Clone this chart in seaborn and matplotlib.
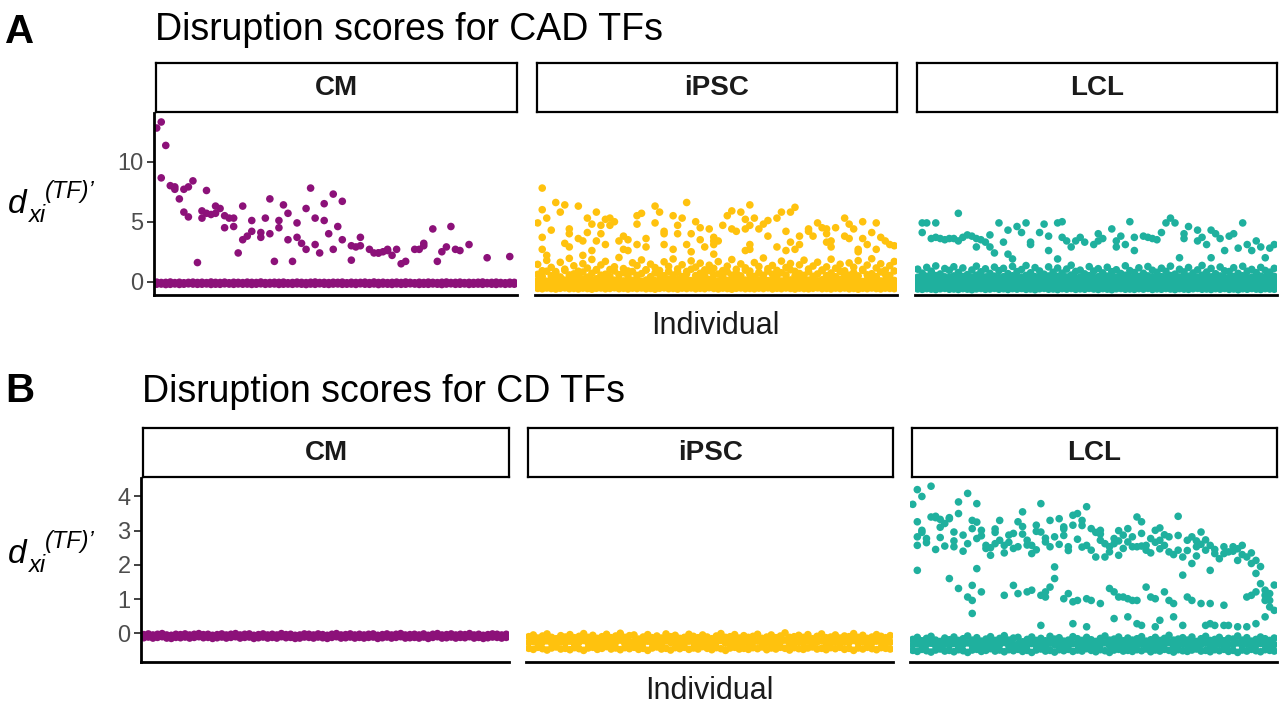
import matplotlib
matplotlib.use("Agg")
import matplotlib.pyplot as plt
import seaborn as sns
import pandas as pd

# ---------------- data ----------------
cells = ["CM", "iPSC", "LCL"]
panels = ["A", "B"]
panel_titles = ["Disruption scores for CAD TFs", "Disruption scores for CD TFs"]
y_ticks_a = [0, 5, 10]
y_ticks_b = [0, 1, 2, 3, 4]
x_label = "Individual"

# ---- Panel A (CAD TFs) : scattered non-zero scores, individual index 0..79
cm_a_ind = [0, 1, 2, 1, 3, 4, 4, 5, 6, 6, 7, 7, 8, 9, 10, 10, 11, 11, 12, 13,
            13, 14, 15, 15, 16, 17, 17, 18, 19, 19, 20, 21, 21, 23, 23, 24, 25, 25, 26, 27,
            27, 28, 29, 29, 30, 31, 31, 32, 33, 33, 34, 35, 35, 36, 37, 37, 38, 39, 39, 40,
            41, 41, 43, 43, 44, 45, 45, 47, 48, 49, 49, 50, 51, 51, 52, 53, 54, 55, 57, 58,
            59, 59, 61, 62, 63, 64, 65, 66, 67, 69, 73, 78]
cm_a_val = [12.8, 13.3, 11.35, 8.65, 8.0, 7.9, 7.7, 6.9, 7.7, 5.8, 7.9, 5.4, 8.4, 1.6, 5.9, 5.3, 5.7, 7.6, 5.6, 6.3,
            5.7, 6.1, 5.5, 4.5, 5.3, 5.3, 4.6, 2.4, 3.5, 6.3, 3.8, 4.2, 5.1, 4.1, 3.7, 5.3, 4.0, 6.9, 1.7, 4.5,
            5.1, 6.4, 3.5, 5.7, 1.7, 4.9, 3.7, 3.2, 6.1, 2.7, 7.8, 5.3, 3.1, 2.4, 6.5, 5.1, 4.0, 2.7, 7.3, 4.6,
            3.5, 6.7, 1.8, 3.0, 2.9, 3.0, 3.7, 2.7, 2.4, 2.4, 2.4, 2.5, 2.6, 2.7, 2.2, 2.7, 1.5, 1.7, 2.7, 2.7,
            3.0, 3.2, 4.4, 1.7, 2.5, 2.9, 4.6, 2.7, 2.6, 3.1, 2.0, 2.1]

ipsc_a_ind = [1, 1, 0, 4, 6, 5, 2, 3, 1, 1, 2, 9, 7, 7, 6, 7, 9, 10, 11, 13,
              12, 11, 14, 13, 15, 15, 12, 10, 16, 17, 16, 14, 19, 18, 20, 19, 20, 22, 23, 22,
              22, 24, 24, 26, 27, 26, 28, 28, 28, 30, 30, 32, 31, 31, 33, 33, 34, 35, 36, 36,
              37, 38, 39, 39, 34,
              47, 43, 42, 45, 46, 48, 41, 43, 44, 46, 47, 49, 50, 51, 53, 54, 57, 56, 55, 51,
              39, 40, 39, 47, 46, 47, 53, 56, 55, 57, 58, 58, 60, 60, 61, 62, 63, 64, 64, 64,
              65, 65, 66, 68, 68, 69, 70, 69, 72, 72, 71, 74, 75, 76, 77, 78, 79, 73, 75, 71]
ipsc_a_val = [7.8, 6.0, 4.9, 6.6, 6.4, 5.8, 5.3, 4.3, 3.7, 2.7, 2.2, 6.3, 4.4, 4.0, 3.2, 2.9, 3.6, 3.4, 5.3, 5.8,
              4.8, 4.1, 4.0, 3.4, 5.2, 3.1, 2.6, 2.2, 5.3, 5.0, 4.7, 4.7, 3.8, 3.4, 3.5, 2.7, 2.6, 5.5, 5.7, 4.8,
              3.1, 3.6, 2.9, 6.3, 5.8, 4.9, 4.2, 4.0, 3.1, 2.7, 5.5, 5.3, 4.7, 4.0, 6.6, 3.1, 4.0, 5.0, 4.5, 3.5,
              2.9, 4.4, 3.4, 2.3, 2.5,
              6.4, 5.9, 5.5, 5.8, 5.2, 5.3, 4.7, 4.4, 4.2, 4.4, 4.7, 4.4, 4.8, 5.1, 5.3, 5.8, 6.2, 5.8, 4.2, 3.8,
              3.7, 3.4, 3.1, 3.1, 2.6, 2.7, 2.9, 3.3, 2.6, 2.7, 3.1, 3.8, 4.2, 4.4, 3.8, 4.9, 4.5, 4.0, 4.4, 3.3,
              2.9, 3.4, 4.5, 5.3, 3.8, 4.8, 4.4, 3.6, 5.0, 3.6, 2.7, 4.1, 4.9, 3.7, 3.4, 3.1, 3.0, 3.1, 2.7, 2.5]

lcl_a_ind = [1, 1, 2, 4, 3, 4, 5, 6, 7, 8, 9, 9, 10, 11, 12, 13, 13, 14, 15, 16,
             16, 17, 18, 19, 20, 20, 21, 22, 23, 24, 25, 25, 27, 28, 29, 29, 31, 32, 31, 32,
             33, 34, 35, 36, 37, 39, 40, 40, 41, 43, 44, 44, 45, 46, 47, 48, 48, 50, 51, 52,
             53, 54, 55, 56, 57, 58, 59, 59, 60, 62, 62, 63, 64, 65, 65, 66, 67, 68, 69, 70,
             72, 71, 73, 74, 75, 76, 77, 78, 79]
lcl_a_val = [4.9, 4.1, 4.9, 4.9, 3.6, 3.7, 3.6, 3.5, 3.6, 3.6, 5.7, 3.4, 3.7, 3.9, 3.8, 3.6, 2.9, 3.5, 3.3, 2.9,
             3.9, 2.4, 4.9, 3.3, 4.3, 2.3, 1.9, 4.6, 4.1, 4.9, 3.3, 3.1, 4.1, 4.8, 3.8, 2.6, 4.9, 5.0, 1.9, 3.7,
             3.4, 2.9, 3.4, 3.7, 3.3, 3.1, 3.4, 4.0, 3.6, 4.4, 2.9, 3.4, 3.8, 3.1, 5.0, 2.6, 3.7, 3.8, 3.7, 3.6,
             3.5, 4.1, 4.9, 5.3, 4.9, 2.0, 4.0, 3.6, 4.6, 4.3, 3.4, 3.7, 3.1, 2.0, 4.3, 4.0, 3.6, 2.6, 3.8, 4.0,
             4.9, 2.8, 3.1, 2.6, 3.4, 2.9, 2.0, 2.8, 3.1]

# ---- Panel A : near-zero scores, one value per individual (index = individual)
cm_a_base_1 = [-0.03, -0.06, -0.05, -0.02, -0.07, -0.04, -0.08, -0.05, -0.03, -0.06,
               -0.04, -0.07, -0.02, -0.05, -0.06, -0.03, -0.08, -0.04, -0.05, -0.07,
               -0.03, -0.05, -0.06, -0.02, -0.07, -0.06, -0.04, -0.05, -0.03, -0.08,
               -0.06, -0.03, -0.05, -0.07, -0.04, -0.02, -0.06, -0.05, -0.07, -0.04,
               -0.05, -0.03, -0.08, -0.04, -0.06, -0.05, -0.03, -0.07, -0.02, -0.06,
               -0.04, -0.07, -0.05, -0.03, -0.06, -0.02, -0.05, -0.08, -0.04, -0.06,
               -0.03, -0.05, -0.07, -0.04, -0.02, -0.06, -0.05, -0.03, -0.07, -0.05,
               -0.06, -0.04, -0.02, -0.07, -0.05, -0.03, -0.06, -0.08, -0.04, -0.05]
cm_a_base_2 = [-0.20, -0.19, -0.23, -0.21, -0.18, -0.22, -0.20, -0.17, -0.19, -0.21,
               -0.20, -0.18, -0.22, -0.20, -0.21, -0.17, -0.19, -0.21, -0.18, -0.20,
               -0.19, -0.22, -0.20, -0.17, -0.21, -0.19, -0.18, -0.22, -0.20, -0.19,
               -0.21, -0.18, -0.20, -0.23, -0.19, -0.21, -0.17, -0.20, -0.22, -0.19,
               -0.18, -0.21, -0.20, -0.19, -0.22, -0.17, -0.20, -0.21, -0.18, -0.23,
               -0.19, -0.20, -0.22, -0.18, -0.21, -0.20, -0.17, -0.19, -0.22, -0.20,
               -0.21, -0.18, -0.20, -0.23, -0.19, -0.17, -0.21, -0.20, -0.18, -0.22,
               -0.20, -0.19, -0.21, -0.17, -0.20, -0.22, -0.18, -0.21, -0.19, -0.20]

ipsc_a_base_1 = [-0.55, -0.58, -0.52, -0.56, -0.60, -0.54, -0.51, -0.57, -0.55, -0.59,
                 -0.53, -0.56, -0.61, -0.54, -0.52, -0.58, -0.55, -0.50, -0.57, -0.54,
                 -0.59, -0.53, -0.56, -0.52, -0.58, -0.55, -0.61, -0.54, -0.51, -0.57,
                 -0.55, -0.60, -0.53, -0.56, -0.52, -0.58, -0.54, -0.57, -0.50, -0.55,
                 -0.59, -0.53, -0.56, -0.61, -0.54, -0.52, -0.57, -0.55, -0.58, -0.53,
                 -0.56, -0.51, -0.59, -0.54, -0.57, -0.52, -0.55, -0.60, -0.53, -0.56,
                 -0.58, -0.54, -0.51, -0.57, -0.55, -0.59, -0.53, -0.56, -0.52, -0.58,
                 -0.55, -0.61, -0.54, -0.57, -0.52, -0.56, -0.59, -0.53, -0.55, -0.57]
ipsc_a_base_2 = [-0.22, -0.18, -0.26, -0.20, -0.15, -0.24, -0.29, -0.19, -0.23, -0.17,
                 -0.27, -0.21, -0.14, -0.25, -0.19, -0.28, -0.22, -0.16, -0.24, -0.20,
                 -0.13, -0.26, -0.21, -0.18, -0.30, -0.23, -0.17, -0.25, -0.20, -0.27,
                 -0.15, -0.22, -0.19, -0.28, -0.24, -0.16, -0.21, -0.26, -0.18, -0.23,
                 -0.29, -0.20, -0.14, -0.25, -0.22, -0.17, -0.27, -0.19, -0.24, -0.21,
                 -0.16, -0.28, -0.23, -0.18, -0.25, -0.20, -0.13, -0.26, -0.22, -0.19,
                 -0.24, -0.17, -0.29, -0.21, -0.15, -0.26, -0.23, -0.18, -0.27, -0.20,
                 -0.22, -0.14, -0.25, -0.19, -0.28, -0.23, -0.17, -0.21, -0.26, -0.20]
ipsc_a_base_3 = [0.12, 0.20, 0.05, 0.16, 0.24, 0.08, 0.14, 0.02, 0.19, 0.10,
                 0.22, 0.06, 0.15, 0.25, 0.09, 0.18, 0.03, 0.13, 0.21, 0.07,
                 0.17, 0.11, 0.26, 0.04, 0.14, 0.20, 0.09, 0.16, 0.01, 0.23,
                 0.12, 0.18, 0.06, 0.22, 0.10, 0.15, 0.27, 0.08, 0.19, 0.13,
                 0.05, 0.21, 0.11, 0.17, 0.24, 0.07, 0.14, 0.20, 0.03, 0.16,
                 0.25, 0.09, 0.18, 0.12, 0.06, 0.22, 0.15, 0.10, 0.19, 0.04,
                 0.13, 0.23, 0.08, 0.17, 0.11, 0.26, 0.05, 0.20, 0.14, 0.09,
                 0.21, 0.16, 0.02, 0.18, 0.12, 0.24, 0.07, 0.15, 0.19, 0.11]
ipsc_a_base_4 = [0.62, 0.45, 0.88, 0.51, 0.73, 0.40, 0.95, 0.57, 0.66, 0.48,
                 0.81, 0.39, 0.70, 1.02, 0.55, 0.63, 0.44, 0.90, 0.59, 0.76,
                 0.47, 0.85, 0.53, 0.68, 0.98, 0.42, 0.74, 0.61, 0.50, 0.87,
                 0.56, 0.79, 0.43, 0.67, 1.05, 0.52, 0.71, 0.46, 0.92, 0.58,
                 0.64, 0.41, 0.83, 0.55, 0.72, 0.49, 0.97, 0.60, 0.45, 0.78,
                 0.54, 0.89, 0.62, 0.44, 0.75, 0.57, 1.00, 0.48, 0.69, 0.53,
                 0.84, 0.46, 0.65, 0.93, 0.51, 0.73, 0.42, 0.86, 0.60, 0.55,
                 0.77, 0.49, 0.95, 0.58, 0.67, 0.44, 0.82, 0.63, 0.52, 0.90]
ipsc_a_base_5 = [1.45, 0.92, 1.78, 1.20, 0.85, 1.62, 1.05, 1.95, 1.33, 0.88,
                 1.51, 1.14, 1.86, 0.97, 1.40, 1.70, 1.02, 1.25, 2.02, 1.10,
                 0.90, 1.58, 1.35, 1.82, 1.00, 1.47, 1.18, 0.94, 1.66, 1.28,
                 1.90, 1.07, 1.42, 0.86, 1.74, 1.22, 1.55, 0.99, 1.38, 1.12,
                 1.68, 0.93, 1.30, 1.85, 1.04, 1.49, 1.16, 0.89, 1.60, 1.27,
                 1.98, 1.09, 1.36, 0.95, 1.72, 1.19, 1.52, 0.87, 1.41, 1.80,
                 1.06, 1.31, 1.63, 0.98, 1.24, 1.88, 1.13, 1.46, 0.91, 1.57,
                 1.21, 1.76, 1.03, 1.39, 1.92, 1.15, 1.50, 0.96, 1.34, 1.69]

lcl_a_base_1 = [-0.60, -0.63, -0.57, -0.61, -0.65, -0.58, -0.55, -0.62, -0.60, -0.64,
                -0.57, -0.61, -0.66, -0.59, -0.56, -0.63, -0.60, -0.55, -0.62, -0.58,
                -0.64, -0.57, -0.61, -0.56, -0.63, -0.60, -0.66, -0.58, -0.55, -0.62,
                -0.60, -0.65, -0.57, -0.61, -0.56, -0.63, -0.59, -0.62, -0.55, -0.60,
                -0.64, -0.57, -0.61, -0.66, -0.58, -0.56, -0.62, -0.60, -0.63, -0.57,
                -0.61, -0.55, -0.64, -0.59, -0.62, -0.56, -0.60, -0.65, -0.57, -0.61,
                -0.63, -0.58, -0.55, -0.62, -0.60, -0.64, -0.57, -0.61, -0.56, -0.63,
                -0.60, -0.66, -0.58, -0.62, -0.56, -0.61, -0.64, -0.57, -0.60, -0.62]
lcl_a_base_2 = [-0.28, -0.24, -0.32, -0.26, -0.21, -0.30, -0.35, -0.25, -0.29, -0.23,
                -0.33, -0.27, -0.20, -0.31, -0.25, -0.34, -0.28, -0.22, -0.30, -0.26,
                -0.19, -0.32, -0.27, -0.24, -0.36, -0.29, -0.23, -0.31, -0.26, -0.33,
                -0.21, -0.28, -0.25, -0.34, -0.30, -0.22, -0.27, -0.32, -0.24, -0.29,
                -0.35, -0.26, -0.20, -0.31, -0.28, -0.23, -0.33, -0.25, -0.30, -0.27,
                -0.22, -0.34, -0.29, -0.24, -0.31, -0.26, -0.19, -0.32, -0.28, -0.25,
                -0.30, -0.23, -0.35, -0.27, -0.21, -0.32, -0.29, -0.24, -0.33, -0.26,
                -0.28, -0.20, -0.31, -0.25, -0.34, -0.29, -0.23, -0.27, -0.32, -0.26]
lcl_a_base_3 = [0.05, 0.12, -0.02, 0.08, 0.15, 0.00, 0.07, -0.04, 0.11, 0.03,
                0.14, -0.01, 0.06, 0.16, 0.02, 0.10, -0.03, 0.05, 0.13, 0.01,
                0.09, 0.04, 0.17, -0.02, 0.07, 0.12, 0.02, 0.08, -0.05, 0.14,
                0.05, 0.10, -0.01, 0.13, 0.03, 0.07, 0.18, 0.00, 0.11, 0.06,
                -0.02, 0.12, 0.04, 0.09, 0.15, 0.01, 0.06, 0.11, -0.04, 0.08,
                0.16, 0.02, 0.10, 0.05, -0.01, 0.13, 0.07, 0.03, 0.11, -0.03,
                0.06, 0.14, 0.01, 0.09, 0.04, 0.17, -0.02, 0.12, 0.07, 0.02,
                0.13, 0.08, -0.04, 0.10, 0.05, 0.15, 0.00, 0.07, 0.11, 0.04]
lcl_a_base_4 = [0.38, 0.30, 0.46, 0.33, 0.52, 0.28, 0.41, 0.36, 0.49, 0.31,
                0.44, 0.27, 0.37, 0.55, 0.32, 0.40, 0.29, 0.47, 0.35, 0.42,
                0.26, 0.50, 0.34, 0.39, 0.53, 0.30, 0.43, 0.37, 0.28, 0.48,
                0.33, 0.45, 0.29, 0.40, 0.56, 0.31, 0.38, 0.27, 0.51, 0.35,
                0.42, 0.30, 0.47, 0.34, 0.39, 0.28, 0.54, 0.36, 0.32, 0.44,
                0.29, 0.49, 0.37, 0.31, 0.43, 0.35, 0.52, 0.27, 0.40, 0.33,
                0.46, 0.30, 0.38, 0.55, 0.32, 0.41, 0.28, 0.48, 0.36, 0.34,
                0.44, 0.29, 0.50, 0.35, 0.39, 0.31, 0.47, 0.37, 0.33, 0.45]
lcl_a_base_5 = [1.05, 0.72, 1.20, 0.88, 1.32, 0.65, 1.10, 0.95, 1.25, 0.78,
                1.15, 0.60, 0.98, 1.30, 0.83, 1.08, 0.70, 1.22, 0.92, 1.12,
                0.68, 1.28, 0.85, 1.02, 1.35, 0.75, 1.18, 0.90, 0.63, 1.24,
                0.80, 1.14, 0.72, 1.06, 1.38, 0.86, 0.97, 0.66, 1.26, 0.89,
                1.09, 0.74, 1.21, 0.84, 1.00, 0.69, 1.33, 0.93, 0.77, 1.16,
                0.71, 1.27, 0.96, 0.79, 1.13, 0.87, 1.30, 0.64, 1.04, 0.82,
                1.19, 0.73, 0.99, 1.36, 0.81, 1.11, 0.67, 1.23, 0.91, 0.85,
                1.17, 0.70, 1.29, 0.88, 1.03, 0.76, 1.20, 0.94, 0.80, 1.12]

# ---- Panel B (CD TFs)
lcl_b_ind = [1, 4, 0, 2, 1, 1, 1, 2, 3, 4, 5, 5, 6, 7, 8, 8, 9, 9, 10, 10,
             11, 12, 13, 13, 14, 14, 15, 16, 16, 17, 18, 19, 19, 20, 21, 22, 23, 23, 24, 25,
             26, 26, 27, 28, 28, 29, 30, 30, 31, 31, 32, 33, 34, 35, 35, 36, 37, 38, 38, 39,
             39, 40, 41, 41, 42, 43, 44, 44, 45, 46, 47, 47, 48, 49, 49, 50, 51, 51, 52, 53,
             54, 55, 56, 56, 58, 58, 59, 59, 60, 61, 61, 62, 63, 64, 65, 65, 66, 68, 69, 70,
             71, 72, 73, 74, 75, 75, 76, 77, 78, 78, 79,
             3, 5, 6, 7, 9, 11, 12, 15, 17, 18, 20, 21, 22, 24, 25, 27, 29, 32, 33, 34,
             36, 37, 40, 42, 43, 45, 46, 48, 50, 52, 53, 54, 55, 57, 60, 62, 63, 64, 66, 67,
             68, 70, 71, 72, 74, 76, 2, 6, 14, 18, 24, 27, 33, 37, 41, 45, 50, 54, 58, 62,
             1, 8, 10, 12, 13, 13, 15, 13, 14, 20, 22, 23, 25, 26, 28, 29, 29, 30, 31, 33,
             34, 35, 36, 38, 39, 41, 43, 44, 45, 46, 47, 48, 49, 51, 52, 53, 55, 56, 57, 60,
             61, 63, 65, 68, 73, 74, 75, 77, 77, 78, 79, 77,
             28, 35, 38, 44, 47, 49, 50, 53, 54, 57, 59, 64, 65, 66, 68, 69, 71, 73, 75]
lcl_b_val = [4.2, 4.3, 3.77, 4.0, 2.82, 3.26, 2.57, 3.01, 2.77, 3.40, 3.38, 3.42, 3.33, 3.21, 3.35, 3.38, 2.53, 2.96, 3.84, 3.5,
             2.87, 4.09, 3.06, 3.3, 3.79, 2.77, 3.01, 2.57, 2.48, 2.28, 2.62, 3.3, 2.72, 2.57, 2.87, 2.92, 3.26, 2.53, 3.55, 2.72,
             2.33, 2.57, 3.16, 3.79, 2.96, 2.67, 3.3, 2.53, 2.82, 1.94, 3.35, 3.11, 2.53, 3.45, 3.16, 3.5, 3.3, 3.7, 2.57, 2.43,
             3.06, 2.23, 2.72, 3.01, 2.23, 2.53, 2.77, 2.62, 2.28, 2.87, 3.06, 2.67, 2.53, 3.4, 2.53, 3.26, 2.43, 2.57, 2.77, 3.01,
             2.72, 2.57, 2.38, 2.82, 2.43, 3.42, 1.7, 2.23, 2.72, 2.82, 2.04, 2.53, 2.96, 2.43, 1.84, 2.57, 2.33, 2.53, 2.38, 2.53,
             2.13, 2.57, 2.23, 2.04, 2.13, 1.75, 1.45, 1.26, 1.16, 0.96, 1.41,
             2.65, 2.45, 2.80, 2.55, 2.70, 2.40, 2.62, 2.85, 2.50, 2.95, 2.35, 2.66, 2.48, 2.90, 2.58, 2.44, 2.78, 2.60, 2.86, 2.42,
             2.75, 2.52, 2.95, 2.62, 2.38, 2.70, 2.48, 2.82, 2.55, 2.35, 2.66, 2.47, 2.88, 2.30, 2.42, 2.26, 2.60, 2.73, 2.45, 2.18,
             2.33, 2.40, 2.47, 2.30, 2.35, 1.95, 2.95, 3.10, 3.25, 3.05, 3.12, 2.98, 3.05, 3.15, 2.90, 3.00, 2.92, 3.08, 2.86, 2.70,
             1.84, 1.6, 1.31, 1.06, 1.4, 0.96, 1.21, 0.58, 1.89, 1.11, 1.4, 1.16, 1.21, 1.26, 1.11, 1.06, 1.21, 1.35, 1.6, 1.01,
             1.16, 0.92, 0.96, 1.01, 0.96, 0.87, 1.31, 1.21, 1.06, 1.06, 1.01, 0.96, 0.96, 1.35, 1.06, 1.01, 1.21, 0.96, 0.87, 1.06,
             0.96, 0.87, 0.87, 0.82, 1.06, 1.11, 1.21, 1.11, 0.96, 0.77, 0.67, 0.48,
             0.23, 0.28, 0.19, 0.43, 0.48, 0.28, 0.23, 0.19, 0.38, 0.48, 0.23, 0.23, 0.28, 0.23, 0.23, 0.23, 0.19, 0.19, 0.28]

cm_b_base_1 = [-0.04, -0.02, -0.05, -0.03, -0.01, -0.05, -0.06, -0.03, -0.04, -0.02,
               -0.05, -0.03, -0.01, -0.04, -0.03, -0.06, -0.04, -0.02, -0.05, -0.03,
               -0.01, -0.05, -0.03, -0.02, -0.06, -0.04, -0.02, -0.05, -0.03, -0.05,
               -0.01, -0.04, -0.03, -0.06, -0.05, -0.02, -0.03, -0.05, -0.02, -0.04,
               -0.06, -0.03, -0.01, -0.05, -0.04, -0.02, -0.05, -0.03, -0.05, -0.03,
               -0.02, -0.06, -0.04, -0.02, -0.05, -0.03, -0.01, -0.05, -0.04, -0.03,
               -0.05, -0.02, -0.06, -0.03, -0.01, -0.05, -0.04, -0.02, -0.05, -0.03,
               -0.04, -0.01, -0.05, -0.03, -0.06, -0.04, -0.02, -0.03, -0.05, -0.03]
cm_b_base_2 = [-0.13, -0.11, -0.14, -0.12, -0.10, -0.14, -0.15, -0.12, -0.13, -0.11,
               -0.14, -0.12, -0.10, -0.13, -0.12, -0.15, -0.13, -0.11, -0.14, -0.12,
               -0.10, -0.14, -0.12, -0.11, -0.15, -0.13, -0.11, -0.14, -0.12, -0.14,
               -0.10, -0.13, -0.12, -0.15, -0.14, -0.11, -0.12, -0.14, -0.11, -0.13,
               -0.15, -0.12, -0.10, -0.14, -0.13, -0.11, -0.14, -0.12, -0.14, -0.12,
               -0.11, -0.15, -0.13, -0.11, -0.14, -0.12, -0.10, -0.14, -0.13, -0.12,
               -0.14, -0.11, -0.15, -0.12, -0.10, -0.14, -0.13, -0.11, -0.14, -0.12,
               -0.13, -0.10, -0.14, -0.12, -0.15, -0.13, -0.11, -0.12, -0.14, -0.12]

ipsc_b_base_1 = [-0.44, -0.47, -0.41, -0.45, -0.49, -0.43, -0.40, -0.46, -0.44, -0.48,
                 -0.42, -0.45, -0.50, -0.43, -0.41, -0.47, -0.44, -0.39, -0.46, -0.43,
                 -0.48, -0.42, -0.45, -0.41, -0.47, -0.44, -0.50, -0.43, -0.40, -0.46,
                 -0.44, -0.49, -0.42, -0.45, -0.41, -0.47, -0.43, -0.46, -0.39, -0.44,
                 -0.48, -0.42, -0.45, -0.50, -0.43, -0.41, -0.46, -0.44, -0.47, -0.42,
                 -0.45, -0.40, -0.48, -0.43, -0.46, -0.41, -0.44, -0.49, -0.42, -0.45,
                 -0.47, -0.43, -0.40, -0.46, -0.44, -0.48, -0.42, -0.45, -0.41, -0.47,
                 -0.44, -0.50, -0.43, -0.46, -0.41, -0.45, -0.48, -0.42, -0.44, -0.46]
ipsc_b_base_2 = [-0.27, -0.24, -0.30, -0.26, -0.22, -0.29, -0.32, -0.25, -0.28, -0.23,
                 -0.31, -0.26, -0.21, -0.29, -0.25, -0.32, -0.27, -0.23, -0.30, -0.26,
                 -0.20, -0.30, -0.26, -0.24, -0.33, -0.28, -0.23, -0.29, -0.26, -0.31,
                 -0.22, -0.27, -0.25, -0.32, -0.29, -0.23, -0.26, -0.30, -0.24, -0.28,
                 -0.32, -0.26, -0.21, -0.29, -0.27, -0.23, -0.31, -0.25, -0.29, -0.26,
                 -0.23, -0.32, -0.28, -0.24, -0.29, -0.26, -0.20, -0.30, -0.27, -0.25,
                 -0.29, -0.23, -0.33, -0.26, -0.22, -0.30, -0.28, -0.24, -0.31, -0.26,
                 -0.27, -0.21, -0.29, -0.25, -0.32, -0.28, -0.23, -0.26, -0.30, -0.26]
ipsc_b_base_3 = [-0.10, -0.05, -0.14, -0.08, -0.02, -0.12, -0.16, -0.07, -0.11, -0.04,
                 -0.13, -0.09, -0.01, -0.12, -0.06, -0.15, -0.10, -0.03, -0.13, -0.08,
                 0.00, -0.12, -0.07, -0.05, -0.17, -0.11, -0.04, -0.13, -0.08, -0.14,
                 -0.02, -0.10, -0.06, -0.15, -0.12, -0.03, -0.09, -0.13, -0.05, -0.11,
                 -0.16, -0.08, -0.01, -0.12, -0.10, -0.04, -0.14, -0.07, -0.12, -0.09,
                 -0.03, -0.15, -0.11, -0.05, -0.13, -0.08, 0.01, -0.12, -0.10, -0.06,
                 -0.12, -0.04, -0.16, -0.09, -0.02, -0.13, -0.11, -0.05, -0.14, -0.08,
                 -0.10, -0.01, -0.12, -0.06, -0.15, -0.11, -0.04, -0.09, -0.13, -0.07]

lcl_b_base_1 = [-0.50, -0.53, -0.47, -0.51, -0.55, -0.49, -0.46, -0.52, -0.50, -0.54,
                -0.48, -0.51, -0.56, -0.49, -0.47, -0.53, -0.50, -0.45, -0.52, -0.49,
                -0.54, -0.48, -0.51, -0.47, -0.53, -0.50, -0.56, -0.49, -0.46, -0.52,
                -0.50, -0.55, -0.48, -0.51, -0.47, -0.53, -0.49, -0.52, -0.45, -0.50,
                -0.54, -0.48, -0.51, -0.56, -0.49, -0.47, -0.52, -0.50, -0.53, -0.48,
                -0.51, -0.46, -0.54, -0.49, -0.52, -0.47, -0.50, -0.55, -0.48, -0.51,
                -0.53, -0.49, -0.46, -0.52, -0.50, -0.54, -0.48, -0.51, -0.47, -0.53,
                -0.50, -0.56, -0.49, -0.52, -0.47, -0.51, -0.54, -0.48, -0.50, -0.52]
lcl_b_base_2 = [-0.34, -0.31, -0.37, -0.33, -0.29, -0.36, -0.39, -0.32, -0.35, -0.30,
                -0.38, -0.33, -0.28, -0.36, -0.32, -0.39, -0.34, -0.30, -0.37, -0.33,
                -0.27, -0.37, -0.33, -0.31, -0.40, -0.35, -0.30, -0.36, -0.33, -0.38,
                -0.29, -0.34, -0.32, -0.39, -0.36, -0.30, -0.33, -0.37, -0.31, -0.35,
                -0.39, -0.33, -0.28, -0.36, -0.34, -0.30, -0.38, -0.32, -0.36, -0.33,
                -0.30, -0.39, -0.35, -0.31, -0.36, -0.33, -0.27, -0.37, -0.34, -0.32,
                -0.36, -0.30, -0.40, -0.33, -0.29, -0.37, -0.35, -0.31, -0.38, -0.33,
                -0.34, -0.28, -0.36, -0.32, -0.39, -0.35, -0.30, -0.33, -0.37, -0.33]
lcl_b_base_3 = [-0.18, -0.12, -0.22, -0.15, -0.09, -0.20, -0.24, -0.14, -0.19, -0.11,
                -0.21, -0.16, -0.08, -0.20, -0.13, -0.23, -0.17, -0.10, -0.21, -0.15,
                -0.07, -0.20, -0.14, -0.12, -0.25, -0.18, -0.11, -0.21, -0.15, -0.22,
                -0.09, -0.17, -0.13, -0.23, -0.20, -0.10, -0.16, -0.21, -0.12, -0.19,
                -0.24, -0.15, -0.08, -0.20, -0.17, -0.11, -0.22, -0.14, -0.20, -0.16,
                -0.10, -0.23, -0.19, -0.12, -0.21, -0.15, -0.06, -0.20, -0.17, -0.13,
                -0.20, -0.11, -0.24, -0.16, -0.09, -0.21, -0.18, -0.12, -0.22, -0.15,
                -0.17, -0.08, -0.20, -0.13, -0.23, -0.18, -0.11, -0.16, -0.21, -0.14]

cell_colors = ["#8C1179", "#FFC20E", "#1FB09E"]

# ---------------- build long table ----------------
layers = [
    ("A", "CM", [cm_a_base_1, cm_a_base_2], cm_a_ind, cm_a_val),
    ("A", "iPSC", [ipsc_a_base_1, ipsc_a_base_2, ipsc_a_base_3, ipsc_a_base_4, ipsc_a_base_5], ipsc_a_ind, ipsc_a_val),
    ("A", "LCL", [lcl_a_base_1, lcl_a_base_2, lcl_a_base_3, lcl_a_base_4, lcl_a_base_5], lcl_a_ind, lcl_a_val),
    ("B", "CM", [cm_b_base_1, cm_b_base_2], [], []),
    ("B", "iPSC", [ipsc_b_base_1, ipsc_b_base_2, ipsc_b_base_3], [], []),
    ("B", "LCL", [lcl_b_base_1, lcl_b_base_2, lcl_b_base_3], lcl_b_ind, lcl_b_val),
]
records = []
for panel, cell, base_rows, inds, vals in layers:
    for row in base_rows:
        for i, v in enumerate(row):
            records.append((panel, cell, i, v))
    for i, v in zip(inds, vals):
        records.append((panel, cell, i, v))
df = pd.DataFrame(records, columns=["panel", "cell", "individual", "score"])

# ---------------- figure ----------------
sns.set_theme(style="white")
plt.rcParams["font.family"] = ["Liberation Sans", "DejaVu Sans"]

W, H = 1280, 704
fig = plt.figure(figsize=(W / 100, H / 100), dpi=100)


def frac_rect(x0, y0, x1, y1):
    return [x0 / W, 1 - y1 / H, (x1 - x0) / W, (y1 - y0) / H]


axes_px = {
    "A": {"y": (113, 295), "strip": (63, 112),
          "x": {"CM": (154, 517), "iPSC": (535, 897), "LCL": (915, 1277)}},
    "B": {"y": (478, 662), "strip": (428, 477),
          "x": {"CM": (141, 509), "iPSC": (526, 893), "LCL": (910, 1277)}},
}
ylims = {"A": (-1.1, 14.05), "B": (-0.84, 4.54)}
yticks = {"A": y_ticks_a, "B": y_ticks_b}

for panel in panels:
    geo = axes_px[panel]
    for ci, cell in enumerate(cells):
        x0, x1 = geo["x"][cell]
        ax = fig.add_axes(frac_rect(x0, geo["y"][0], x1, geo["y"][1]))
        sub = df[(df.panel == panel) & (df.cell == cell)]
        sns.scatterplot(data=sub, x="individual", y="score", color=cell_colors[ci],
                        s=30, linewidth=0, edgecolor="none", ax=ax, legend=False)
        ax.set_xlim(-0.6, 79.6)
        ax.set_ylim(*ylims[panel])
        ax.set_xticks([])
        ax.set_xlabel("")
        ax.set_ylabel("")
        ax.patch.set_alpha(0)
        for side in ["top", "right"]:
            ax.spines[side].set_visible(False)
        ax.spines["bottom"].set_linewidth(2.0)
        ax.spines["bottom"].set_color("black")
        if cell == "CM":
            ax.set_yticks(yticks[panel])
            ax.set_yticklabels([str(t) for t in yticks[panel]])
            ax.spines["left"].set_linewidth(2.0)
            ax.spines["left"].set_color("black")
            ax.tick_params(axis="y", left=True, length=5, width=1.3, color="#333333",
                           labelsize=17, labelcolor="#4D4D4D", pad=2.5)
        else:
            ax.set_yticks([])
            ax.spines["left"].set_visible(False)

        sax = fig.add_axes(frac_rect(x0 + 2, geo["strip"][0], x1, geo["strip"][1]))
        sax.set_xticks([])
        sax.set_yticks([])
        sax.set_facecolor("white")
        for sp in sax.spines.values():
            sp.set_visible(True)
            sp.set_linewidth(1.6)
            sp.set_color("black")
        sax.text(0.5, 0.48, cell, ha="center", va="center", fontsize=20,
                 fontweight="bold", color="#1A1A1A", transform=sax.transAxes)

# panel letters and titles
fig.text(5 / W, 1 - 43 / H, "A", fontsize=29, fontweight="bold", color="black", va="baseline")
fig.text(155 / W, 1 - 40 / H, panel_titles[0], fontsize=27, color="black", va="baseline")
fig.text(5 / W, 1 - 402 / H, "B", fontsize=29, fontweight="bold", color="black", va="baseline")
fig.text(142 / W, 1 - 402 / H, panel_titles[1], fontsize=27, color="black", va="baseline")

# x labels
fig.text((154 + 1277) / 2 / W, 1 - 334 / H, x_label, fontsize=22, color="#1A1A1A",
         ha="center", va="baseline")
fig.text((141 + 1277) / 2 / W, 1 - 699 / H, x_label, fontsize=22, color="#1A1A1A",
         ha="center", va="baseline")

# y labels  d_xi^(TF)'
for dy in [0, 350]:
    fig.text(8 / W, 1 - (213 + dy) / H, "d", fontsize=24, style="italic", color="black", va="baseline")
    fig.text(29 / W, 1 - (222 + dy) / H, "xi", fontsize=17, style="italic", color="black", va="baseline")
    fig.text(45 / W, 1 - (198 + dy) / H, "(TF)\u2019", fontsize=17, style="italic", color="black", va="baseline")

fig.savefig("out.png", dpi=100)
